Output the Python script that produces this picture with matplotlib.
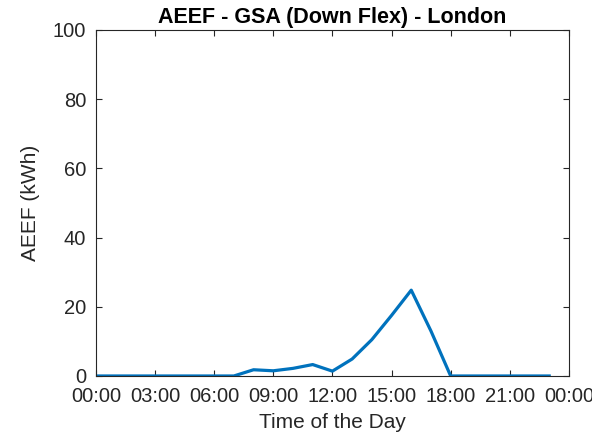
import matplotlib.pyplot as plt

# hourly AEEF values (kWh)
hours = list(range(24))
aeef = [0, 0, 0, 0, 0, 0, 0, 0, 1.8, 1.5, 2.2, 3.3, 1.4, 4.9,
        10.5, 17.5, 24.8, 13.0, 0, 0, 0, 0, 0, 0]
tick_hours = [0, 3, 6, 9, 12, 15, 18, 21, 24]
tick_labels = ['00:00', '03:00', '06:00', '09:00', '12:00', '15:00', '18:00', '21:00', '00:00']

plt.rcParams['font.family'] = ['Liberation Sans', 'DejaVu Sans']
axcol = '#262626'

fig = plt.figure(figsize=(5.92, 4.38), dpi=100)
ax = fig.add_axes([0.162, 0.1416, 0.799, 0.79])
ax.plot(hours, aeef, color='#0072BD', linewidth=2.3)

ax.set_xlim(0, 24)
ax.set_ylim(0, 100)
ax.set_xticks(tick_hours)
ax.set_xticklabels(tick_labels)
ax.set_yticks([0, 20, 40, 60, 80, 100])
ax.tick_params(direction='in', top=True, right=True, length=4, width=0.8,
               colors=axcol, labelsize=14.5)
ax.tick_params(axis='x', pad=8)
ax.tick_params(axis='y', pad=7)
for s in ax.spines.values():
    s.set_color(axcol)
    s.set_linewidth(0.8)

ax.set_xlabel('Time of the Day', fontsize=15, color=axcol, labelpad=5)
ax.set_ylabel('AEEF (kWh)', fontsize=15, color=axcol, labelpad=9)
ax.set_title('AEEF - GSA (Down Flex) - London', fontsize=15.5, fontweight='bold', pad=5)

fig.savefig('out.png', dpi=100)
